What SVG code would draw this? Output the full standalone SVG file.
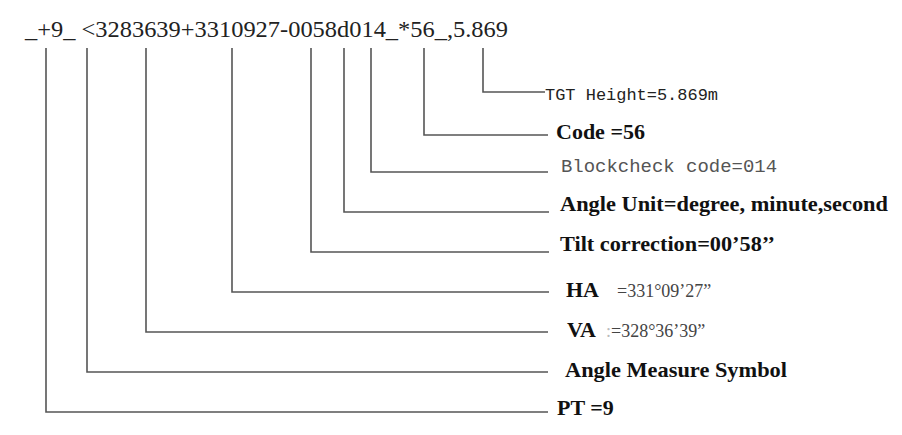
<svg xmlns="http://www.w3.org/2000/svg" width="902" height="435" viewBox="0 0 902 435">
<style>
.code{font-family:"Liberation Serif",serif;font-size:24px;fill:#222}
.lbl{font-family:"Liberation Serif",serif;font-size:22px;font-weight:bold;fill:#111}
.val{font-family:"Liberation Serif",serif;font-size:18px;fill:#444}
.mono{font-family:"Liberation Mono",monospace;fill:#222}
.conn{fill:none;stroke:#555;stroke-width:1.6}
</style>
<rect width="902" height="435" fill="#fff"/>
<text class="code" x="25" y="37" textLength="483" lengthAdjust="spacingAndGlyphs">_+9_ &lt;3283639+3310927-0058d014_*56_,5.869</text>
<g id="connectors">
<polyline class="conn" points="483,48 483,92 545,92"/>
<polyline class="conn" points="424,48 424,135 548,135"/>
<polyline class="conn" points="371,48 371,172 548,172"/>
<polyline class="conn" points="344,48 344,212 549,212"/>
<polyline class="conn" points="311,48 311,252 549,252"/>
<polyline class="conn" points="232,48 232,292 549,292"/>
<polyline class="conn" points="146,48 146,332 548,332"/>
<polyline class="conn" points="87,48 87,372 548,372"/>
<polyline class="conn" points="46,48 46,412 548,412"/>
</g>
<g id="tgt"><text class="mono" x="545" y="100" font-size="16" textLength="173" lengthAdjust="spacingAndGlyphs">TGT Height=5.869m</text></g>
<g id="code"><text class="lbl" x="556" y="139">Code =56</text></g>
<g id="blockcheck"><text class="mono" x="561" y="172" font-size="19" style="fill:#555" textLength="216" lengthAdjust="spacingAndGlyphs">Blockcheck code=014</text></g>
<g id="angleunit"><text class="lbl" x="560" y="211" textLength="328" lengthAdjust="spacingAndGlyphs">Angle Unit=degree, minute,second</text></g>
<g id="tilt"><text class="lbl" x="560" y="251" textLength="215" lengthAdjust="spacingAndGlyphs">Tilt correction=00’58’’</text></g>
<g id="ha"><text class="lbl" x="566" y="297">HA</text><text class="val" x="617" y="297">=331°09’27”</text></g>
<g id="va"><text class="lbl" x="567" y="337">VA</text><text class="val" x="606" y="337"><tspan style="fill:#bbb">:</tspan>=328°36’39”</text></g>
<g id="anglemeasure"><text class="lbl" x="565" y="377" textLength="222" lengthAdjust="spacingAndGlyphs">Angle Measure Symbol</text></g>
<g id="pt"><text class="lbl" x="557" y="415">PT =9</text></g>
</svg>
